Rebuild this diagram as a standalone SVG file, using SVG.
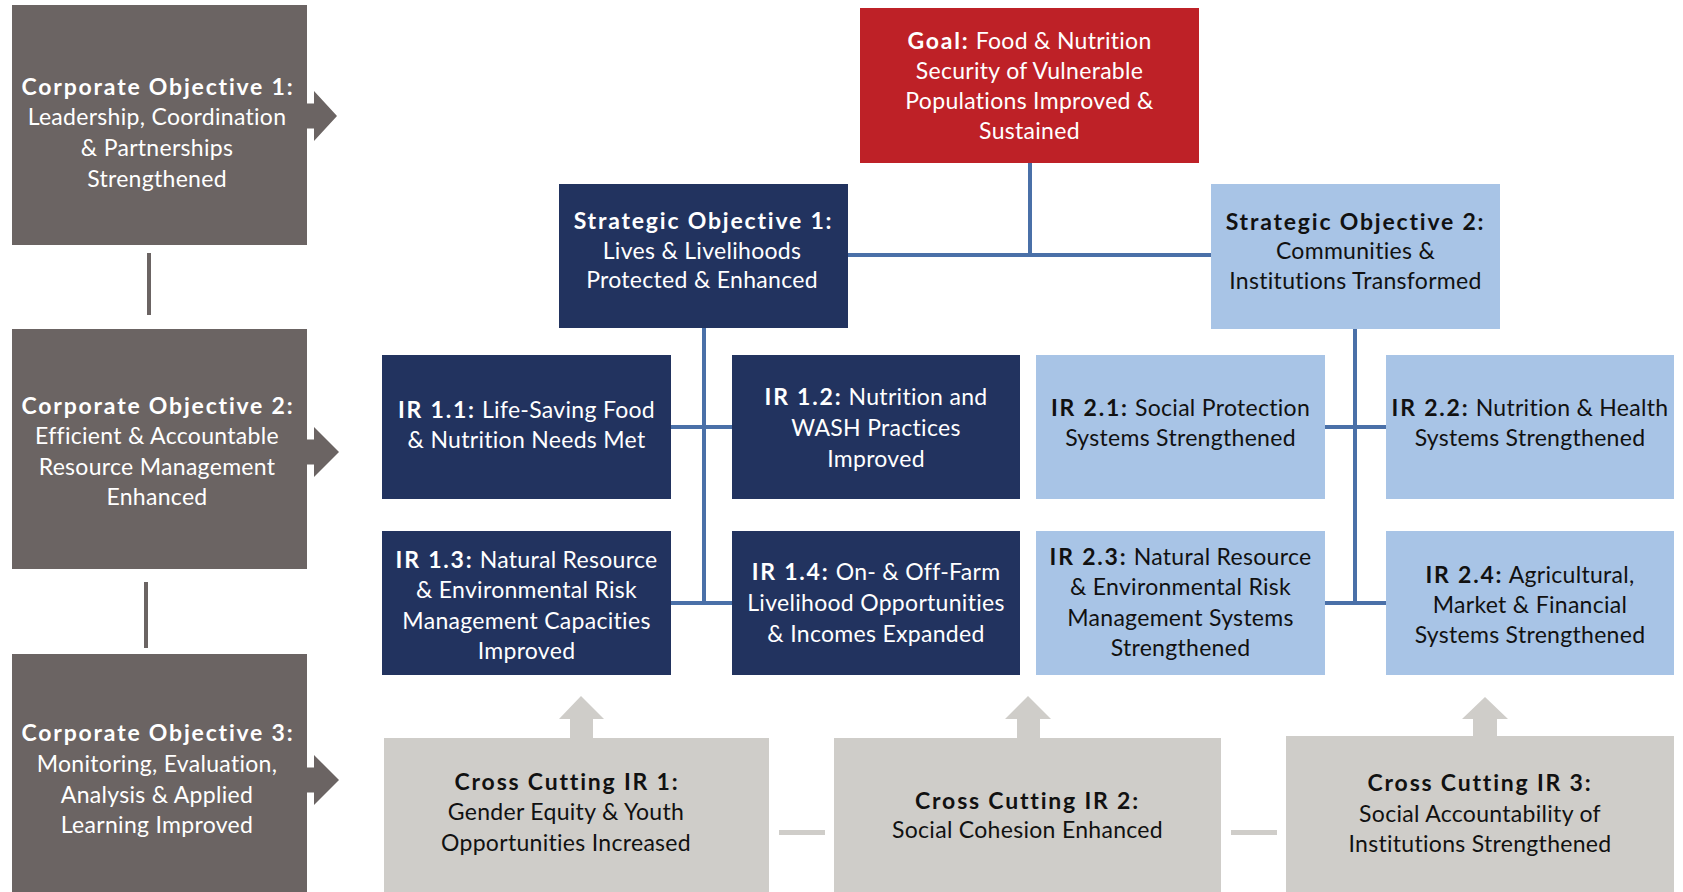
<svg xmlns="http://www.w3.org/2000/svg" width="1683" height="892" viewBox="0 0 1683 892">
<style>
text{font-family:Lato,"Open Sans","Liberation Sans",sans-serif;font-size:23px;letter-spacing:0.3px;text-anchor:middle}
.b{font-weight:bold;letter-spacing:1.8px}
.w{fill:#ffffff}
.k{fill:#111111}
.corp{fill:#6b6463}
.navy{fill:#22335f}
.lb{fill:#a8c4e6}
.red{fill:#be2127}
.cc{fill:#cfcdc9}
.con{stroke:#4a70a8;stroke-width:4;fill:none}
.cl{stroke:#6b6463;stroke-width:4;fill:none}
.dash{stroke:#cfcdc9;stroke-width:5;fill:none}
</style>
<rect width="1683" height="892" fill="#ffffff"/>
<g id="connectors">
<line class="con" x1="1030" y1="163" x2="1030" y2="255"/>
<line class="con" x1="848" y1="255" x2="1211" y2="255"/>
<line class="con" x1="704" y1="328" x2="704" y2="603"/>
<line class="con" x1="671" y1="427" x2="732" y2="427"/>
<line class="con" x1="671" y1="603" x2="732" y2="603"/>
<line class="con" x1="1355" y1="329" x2="1355" y2="603"/>
<line class="con" x1="1325" y1="427" x2="1386" y2="427"/>
<line class="con" x1="1325" y1="603" x2="1386" y2="603"/>
<line class="cl" x1="149" y1="253" x2="149" y2="315"/>
<line class="cl" x1="146" y1="582" x2="146" y2="648"/>
<line class="dash" x1="779" y1="832.5" x2="825" y2="832.5"/>
<line class="dash" x1="1231" y1="832.5" x2="1277" y2="832.5"/>
<polygon class="corp" points="306,103.5 314,103.5 314,91 337,116 314,141 314,128.5 306,128.5"/>
<polygon class="corp" points="306,439.5 314,439.5 314,427 339,452 314,477 314,464.5 306,464.5"/>
<polygon class="corp" points="306,767.5 314,767.5 314,755 339,780 314,805 314,792.5 306,792.5"/>
<polygon class="cc" points="570,739 570,719 559,719 581,696 604,719 593,719 593,739"/>
<polygon class="cc" points="1017,739 1017,719 1005,719 1028,696 1051,719 1040,719 1040,739"/>
<polygon class="cc" points="1473,737 1473,719 1462,719 1485,697 1508,719 1497,719 1497,737"/>
</g>
<g id="co1">
<rect class="corp" x="12" y="5" width="295" height="240"/>
<text class="w b" x="158" y="95">Corporate Objective 1:</text>
<text class="w" x="157" y="125">Leadership, Coordination</text>
<text class="w" x="157" y="156">&amp; Partnerships</text>
<text class="w" x="157" y="187">Strengthened</text>
</g>
<g id="co2">
<rect class="corp" x="12" y="329" width="295" height="240"/>
<text class="w b" x="158" y="414">Corporate Objective 2:</text>
<text class="w" x="157" y="444">Efficient &amp; Accountable</text>
<text class="w" x="157" y="475">Resource Management</text>
<text class="w" x="157" y="505">Enhanced</text>
</g>
<g id="co3">
<rect class="corp" x="12" y="654" width="295" height="238"/>
<text class="w b" x="158" y="741">Corporate Objective 3:</text>
<text class="w" x="157" y="772">Monitoring, Evaluation,</text>
<text class="w" x="157" y="803">Analysis &amp; Applied</text>
<text class="w" x="157" y="833">Learning Improved</text>
</g>
<g id="goal">
<rect class="red" x="860" y="8" width="339" height="155"/>
<text class="w" x="1029.5" y="49"><tspan class="b">Goal:</tspan> Food &amp; Nutrition</text>
<text class="w" x="1029.5" y="79">Security of Vulnerable</text>
<text class="w" x="1029.5" y="109">Populations Improved &amp;</text>
<text class="w" x="1029.5" y="139">Sustained</text>
</g>
<g id="so1">
<rect class="navy" x="559" y="184" width="289" height="144"/>
<text class="w b" x="703.5" y="229">Strategic Objective 1:</text>
<text class="w" x="702" y="259">Lives &amp; Livelihoods</text>
<text class="w" x="702" y="288">Protected &amp; Enhanced</text>
</g>
<g id="so2">
<rect class="lb" x="1211" y="184" width="289" height="145"/>
<text class="k b" x="1355.5" y="230">Strategic Objective 2:</text>
<text class="k" x="1355.5" y="259">Communities &amp;</text>
<text class="k" x="1355.5" y="289">Institutions Transformed</text>
</g>
<g id="ir11">
<rect class="navy" x="382" y="355" width="289" height="144"/>
<text class="w" x="526.5" y="418"><tspan class="b">IR 1.1:</tspan> Life-Saving Food</text>
<text class="w" x="526.5" y="448">&amp; Nutrition Needs Met</text>
</g>
<g id="ir12">
<rect class="navy" x="732" y="355" width="288" height="144"/>
<text class="w" x="876" y="405"><tspan class="b">IR 1.2:</tspan> Nutrition and</text>
<text class="w" x="876" y="436">WASH Practices</text>
<text class="w" x="876" y="467">Improved</text>
</g>
<g id="ir21">
<rect class="lb" x="1036" y="355" width="289" height="144"/>
<text class="k" x="1180.5" y="416"><tspan class="b">IR 2.1:</tspan> Social Protection</text>
<text class="k" x="1180.5" y="446">Systems Strengthened</text>
</g>
<g id="ir22">
<rect class="lb" x="1386" y="355" width="288" height="144"/>
<text class="k" x="1530" y="416"><tspan class="b">IR 2.2:</tspan> Nutrition &amp; Health</text>
<text class="k" x="1530" y="446">Systems Strengthened</text>
</g>
<g id="ir13">
<rect class="navy" x="382" y="531" width="289" height="144"/>
<text class="w" x="526.5" y="568"><tspan class="b">IR 1.3:</tspan> Natural Resource</text>
<text class="w" x="526.5" y="598">&amp; Environmental Risk</text>
<text class="w" x="526.5" y="629">Management Capacities</text>
<text class="w" x="526.5" y="659">Improved</text>
</g>
<g id="ir14">
<rect class="navy" x="732" y="531" width="288" height="144"/>
<text class="w" x="876" y="580"><tspan class="b">IR 1.4:</tspan> On- &amp; Off-Farm</text>
<text class="w" x="876" y="611">Livelihood Opportunities</text>
<text class="w" x="876" y="642">&amp; Incomes Expanded</text>
</g>
<g id="ir23">
<rect class="lb" x="1036" y="531" width="289" height="144"/>
<text class="k" x="1180.5" y="565"><tspan class="b">IR 2.3:</tspan> Natural Resource</text>
<text class="k" x="1180.5" y="595">&amp; Environmental Risk</text>
<text class="k" x="1180.5" y="626">Management Systems</text>
<text class="k" x="1180.5" y="656">Strengthened</text>
</g>
<g id="ir24">
<rect class="lb" x="1386" y="531" width="288" height="144"/>
<text class="k" x="1530" y="583"><tspan class="b">IR 2.4:</tspan> Agricultural,</text>
<text class="k" x="1530" y="613">Market &amp; Financial</text>
<text class="k" x="1530" y="643">Systems Strengthened</text>
</g>
<g id="cc1">
<rect class="cc" x="384" y="738" width="385" height="154"/>
<text class="k b" x="567" y="790">Cross Cutting IR 1:</text>
<text class="k" x="566" y="820">Gender Equity &amp; Youth</text>
<text class="k" x="566" y="851">Opportunities Increased</text>
</g>
<g id="cc2">
<rect class="cc" x="834" y="738" width="387" height="154"/>
<text class="k b" x="1027.5" y="809">Cross Cutting IR 2:</text>
<text class="k" x="1027.5" y="838">Social Cohesion Enhanced</text>
</g>
<g id="cc3">
<rect class="cc" x="1286" y="736" width="388" height="156"/>
<text class="k b" x="1480" y="791">Cross Cutting IR 3:</text>
<text class="k" x="1480" y="822">Social Accountability of</text>
<text class="k" x="1480" y="852">Institutions Strengthened</text>
</g>
</svg>
